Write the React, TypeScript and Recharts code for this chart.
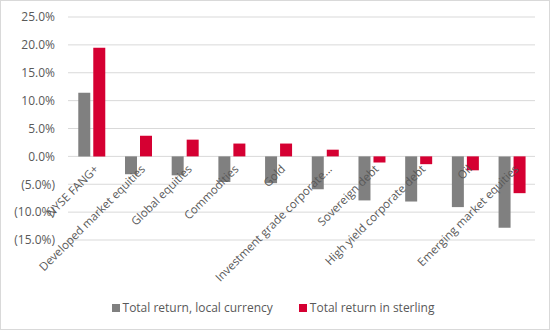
import React from "react";
import {
    BarChart,
    Bar,
    XAxis,
    YAxis,
    CartesianGrid,
    Legend,
} from "recharts";

const categories = [
    "NYSE FANG+",
    "Developed market equities",
    "Global equities",
    "Commodities",
    "Gold",
    "Investment grade corporate...",
    "Sovereign debt",
    "High yield corporate debt",
    "Oil",
    "Emerging market equities",
];
const localReturn = [11.4, -3.2, -3.4, -4.6, -4.8, -5.9, -7.9, -8.1, -9.1, -12.8];
const sterlingReturn = [19.5, 3.7, 3.0, 2.3, 2.3, 1.2, -1.1, -1.4, -2.5, -6.6];
const yTicks = [-15, -10, -5, 0, 5, 10, 15, 20, 25];

const data = categories.map((name, i) => ({
    name,
    local: localReturn[i],
    sterling: sterlingReturn[i],
}));

const W = 550;
const H = 330;
const TOP = 17;
const PLOT_H = 224;
const Y_MIN = -15;
const Y_MAX = 25;
const FONT = "'Open Sans', sans-serif";
const TEXT = "#595959";

const fmt = (v: number) =>
    v < 0 ? `(${Math.abs(v).toFixed(1)}%)` : `${v.toFixed(1)}%`;

// Excel puts category labels on the zero line, not at the bottom of the plot
function CategoryTick(props: any) {
    const { x, y, payload } = props;
    const zeroShift = (PLOT_H * (0 - Y_MIN)) / (Y_MAX - Y_MIN);
    const ax = x + 5;
    const ay = y - zeroShift + 11;
    return (
        <text
            x={ax}
            y={ay}
            dy="0.35em"
            textAnchor="end"
            transform={`rotate(-45, ${ax}, ${ay})`}
            fill={TEXT}
            fontSize={11.5}
            fontFamily={FONT}
        >
            {payload.value}
        </text>
    );
}

function LegendBox({ payload }: any) {
    return (
        <div
            style={{
                display: "flex",
                justifyContent: "center",
                gap: 26,
                fontFamily: FONT,
                fontSize: 12,
                color: TEXT,
                paddingLeft: 10,
                paddingTop: 4,
            }}
        >
            {(payload || []).map((p: any) => (
                <span key={p.value} style={{ display: "flex", alignItems: "center" }}>
                    <span
                        style={{
                            width: 8,
                            height: 8,
                            background: p.color,
                            marginRight: 3,
                            display: "inline-block",
                        }}
                    />
                    {p.value}
                </span>
            ))}
        </div>
    );
}

export default function App() {
    return (
        <div
            style={{
                position: "fixed",
                left: 0,
                top: 0,
                width: W - 2,
                height: H - 2,
                border: "1px solid #d9d9d9",
                background: "#fff",
            }}
        >
            <BarChart
                width={W - 2}
                height={H - 2}
                data={data}
                margin={{ top: TOP - 1, right: 14, bottom: 4, left: 0 }}
                barCategoryGap="22%"
                barGap={3}
            >
                <CartesianGrid vertical={false} stroke="#d9d9d9" />
                <XAxis
                    dataKey="name"
                    height={55}
                    axisLine={false}
                    tickLine={false}
                    tickSize={0}
                    tickMargin={0}
                    interval={0}
                    tick={<CategoryTick />}
                />
                <YAxis
                    width={67}
                    domain={[Y_MIN, Y_MAX]}
                    ticks={yTicks}
                    tickFormatter={fmt}
                    axisLine={false}
                    tickLine={false}
                    tickMargin={7}
                    tick={{ fill: TEXT, fontSize: 12, fontFamily: FONT }}
                />
                <Legend height={30} itemSorter="dataKey" content={<LegendBox />} />
                <Bar
                    dataKey="local"
                    name="Total return, local currency"
                    fill="#808080"
                    isAnimationActive={false}
                />
                <Bar
                    dataKey="sterling"
                    name="Total return in sterling"
                    fill="#d50032"
                    isAnimationActive={false}
                />
            </BarChart>
        </div>
    );
}
